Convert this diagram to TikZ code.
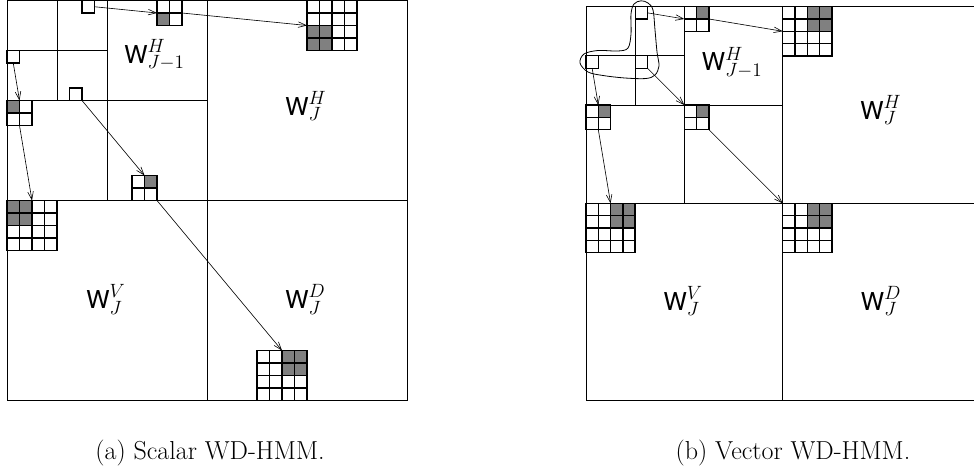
\documentclass[tikz,border=0pt]{standalone}
\usepackage{fontspec}
\setsansfont{TeX Gyre Heros}
\DeclareMathSizes{18.5}{18.5}{15.5}{11}
\usetikzlibrary{arrows.meta}
\tikzset{
  panel/.style={line width=0.6pt, draw=black},
  cellshade/.style={fill=black!50},
  blockgrid/.style={line width=1.1pt, draw=black},
  blockframe/.style={draw=black, line width=1.1pt, inner sep=0pt, outer sep=0pt, anchor=north west},
  conn/.style={line width=0.45pt, -{Straight Barb[length=6pt,width=4.2pt,line width=0.45pt]}},
  lbl/.style={inner sep=0pt, anchor=base west, font=\fontsize{18.5}{22}\selectfont},
  capt/.style={inner sep=0pt, anchor=base, font=\fontsize{19.5}{23}\selectfont},
}
\newcommand\cellblock[6]{%
  \foreach \c/\r in {#6} {\fill[cellshade] (#2+\c,#3+\r) rectangle ++(1,1);}
  \foreach \i in {#5} {\draw[blockgrid] (#2+\i,#3) -- ++(0,#4); \draw[blockgrid] (#2,#3+\i) -- ++(#4,0);}
  \node[blockframe, minimum size=#4*\cellsz] (#1) at (#2,#3) {};
}
\newcommand\onebox[3]{%
  \node[blockframe, line width=0.8pt, minimum size=\cellsz] (#1) at (#2,#3) {};
}
\newcommand\panelgrid{%
  \draw[panel] (0,0) rectangle (32,32);
  \draw[panel] (16,0) -- (16,32) (0,16) -- (32,16) (8,0) -- (8,16) (0,8) -- (16,8) (4,0) -- (4,8) (0,4) -- (8,4);
}
\begin{document}
\begin{tikzpicture}[x=0.75pt, y=-0.75pt]
\useasboundingbox (0,0) rectangle (974,471);
% ---------- panel (a) ----------
\begin{scope}[shift={(7,0.5)}, x=9.375pt, y=-9.375pt]
  \def\cellsz{9.375pt}
  \panelgrid
  \onebox{aA}{6}{0}
  \cellblock{aA2}{12}{0}{2}{1}{0/1}
  \cellblock{aA3}{24}{0}{4}{1,2,3}{0/2,1/2,0/3,1/3}
  \onebox{aB}{0}{4}
  \cellblock{aB2}{0}{8}{2}{1}{0/0}
  \cellblock{aB3}{0}{16}{4}{1,2,3}{0/0,1/0,0/1,1/1}
  \onebox{aC}{5}{7}
  \cellblock{aC2}{10}{14}{2}{1}{1/0}
  \cellblock{aC3}{20}{28}{4}{1,2,3}{2/0,3/0,2/1,3/1}
  \draw[conn] (aA.east) -- (aA2.west);
  \draw[conn] (aA2.east) -- (aA3.west);
  \draw[conn] (aB.south) -- (aB2.north);
  \draw[conn] (aB2.south) -- (aB3.north);
  \draw[conn] (aC.south east) -- (aC2.north);
  \draw[conn] (aC2.south east) -- (aC3.north);
\end{scope}
% ---------- panel (b) ----------
\begin{scope}[shift={(586,6.7)}, x=9.219pt, y=-9.219pt]
  \def\cellsz{9.219pt}
  \panelgrid
  \onebox{bH}{4}{0}
  \cellblock{bH2}{8}{0}{2}{1}{1/0}
  \cellblock{bH3}{16}{0}{4}{1,2,3}{2/0,3/0,2/1,3/1}
  \onebox{bV}{0}{4}
  \cellblock{bV2}{0}{8}{2}{1}{1/0}
  \cellblock{bV3}{0}{16}{4}{1,2,3}{2/0,3/0,2/1,3/1}
  \onebox{bD}{4}{4}
  \cellblock{bD2}{8}{8}{2}{1}{1/0}
  \cellblock{bD3}{16}{16}{4}{1,2,3}{2/0,3/0,2/1,3/1}
  \draw[conn] (bH.east) -- (bH2.west);
  \draw[conn] (bH2.east) -- (bH3.west);
  \draw[conn] (bV.south) -- (bV2.north);
  \draw[conn] (bV2.south) -- (bV3.north);
  \draw[conn] (bD.south east) -- (bD2.north west);
  \draw[conn] (bD2.south east) -- (bD3.north west);
\end{scope}
% grouping curve
\draw[panel] plot[smooth cycle, tension=0.55] coordinates {
  (641,0.8) (648,3) (653,10) (655,30) (657,52) (659,66) (655,75) (646,78.5)
  (625,78) (603,75.5) (588,72) (580,63) (584,54) (598,50.5) (618,51) (628,48)
  (631,34) (631,14) (634,4)};
% labels
\node[lbl] (la1) at (124,63) {$\textsf{W}^{H}_{J-1}$};
\node[lbl] (la2) at (285,115) {$\textsf{W}^{H}_{J}$};
\node[lbl] (la3) at (86,308.3) {$\textsf{W}^{V}_{J}$};
\node[lbl] (la4) at (285,308.3) {$\textsf{W}^{D}_{J}$};
\node[lbl] (lb1) at (701.7,70.7) {$\textsf{W}^{H}_{J-1}$};
\node[lbl] (lb2) at (860,119) {$\textsf{W}^{H}_{J}$};
\node[lbl] (lb3) at (663.3,310) {$\textsf{W}^{V}_{J}$};
\node[lbl] (lb4) at (860.7,310) {$\textsf{W}^{D}_{J}$};
% captions
\node[capt] (capa) at (210,459.5) {(a) Scalar WD-HMM.};
\node[capt] (capb) at (793,459.5) {(b) Vector WD-HMM.};
\end{tikzpicture}
\end{document}
